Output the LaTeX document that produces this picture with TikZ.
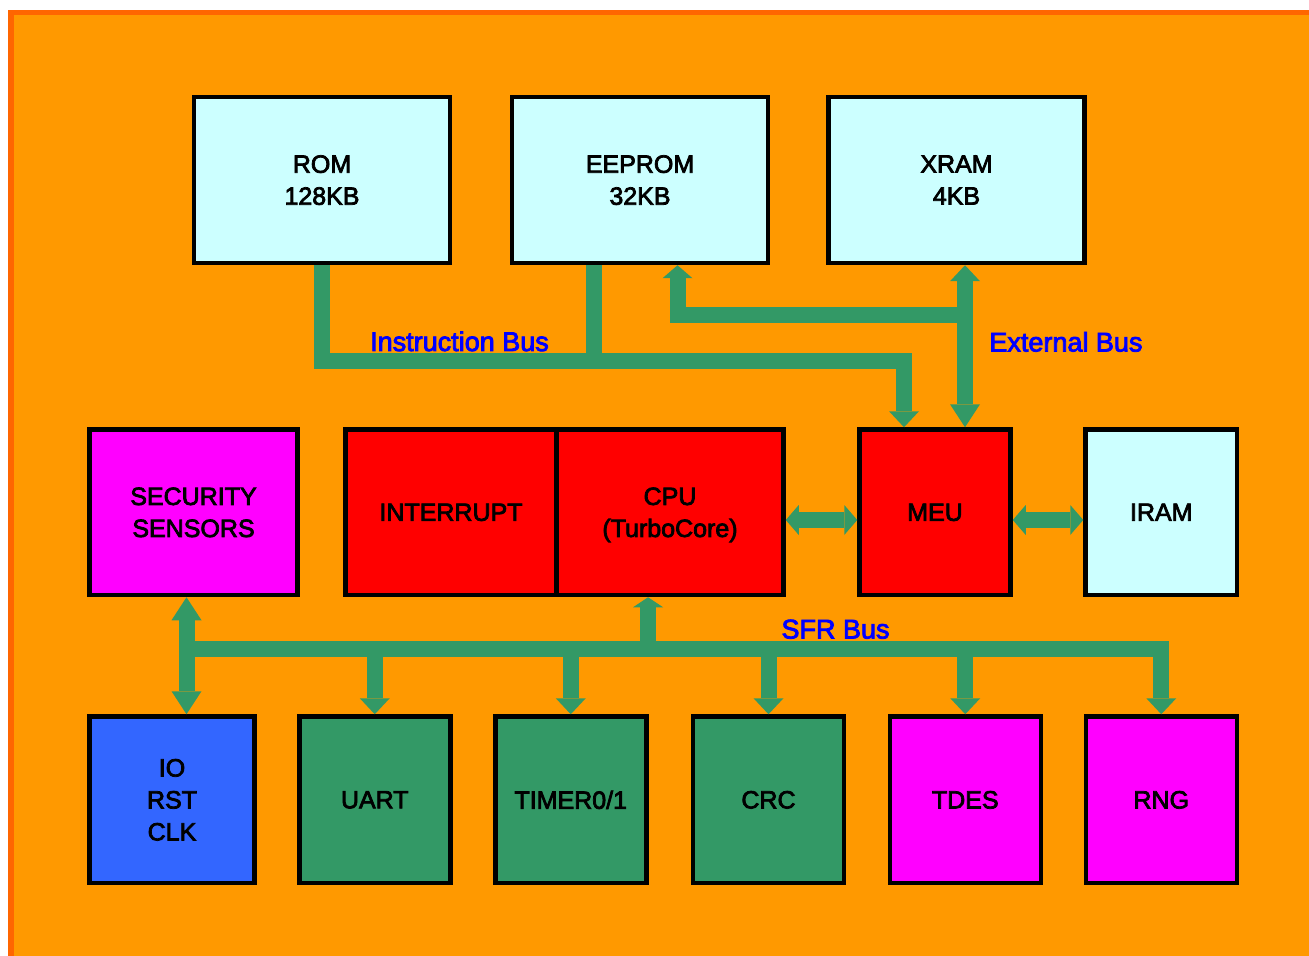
\documentclass[tikz,border=0pt]{standalone}
\usepackage{fontspec}
\setmainfont{Liberation Sans}
\newfontfamily\chipfont{Liberation Sans}[RawFeature={embolden=3}]
\usetikzlibrary{arrows.meta}

\definecolor{bgorange}{HTML}{FF9900}
\definecolor{frameorange}{HTML}{FF6600}
\definecolor{memcyan}{HTML}{CCFFFF}
\definecolor{corered}{HTML}{FF0000}
\definecolor{secmagenta}{HTML}{FF00FF}
\definecolor{ioblue}{HTML}{3366FF}
\definecolor{busgreen}{HTML}{339966}
\definecolor{labelblue}{HTML}{0000FF}

\tikzset{
	block/.style={draw=black, line width=2.25pt, align=center, inner sep=0pt, text depth=0pt,
		font=\chipfont\fontsize{12.5}{16}\selectfont},
	topblock/.style={block, fill=memcyan, minimum width=128pt, minimum height=83pt},
	midblock/.style={block, minimum height=82.75pt},
	lowblock/.style={block, minimum width=75.5pt, minimum height=83.25pt},
	bus/.style={draw=busgreen, line width=8pt, line join=miter},
	buslabel/.style={text=labelblue, inner sep=0pt, font=\chipfont\fontsize{13.5}{16}\selectfont},
	tinyhead/.tip={Triangle[width=15pt, length=5pt, line width=0pt]},
	shorthead/.tip={Triangle[width=15pt, length=6.5pt, line width=0pt]},
	midhead/.tip={Triangle[width=15pt, length=8pt, line width=0pt]},
	longhead/.tip={Triangle[width=15pt, length=11.5pt, line width=0pt]}
}

\begin{document}
\begin{tikzpicture}[x=0.5pt, y=-0.5pt]
%%%%%%%%%%%%%%%%%%

\useasboundingbox (0,0) rectangle (1309,956);

%Background
	\fill[bgorange] (8,10) rectangle (1320,970);
	\draw[frameorange, line width=2.75pt] (10.75,970) -- (10.75,12.75) -- (1320,12.75);

%Memories
	\node[topblock] (ROM) at (322,180) {ROM\\128KB};
	\node[topblock] (EEPROM) at (640,180) {EEPROM\\32KB};
	\node[topblock] (XRAM) at (956.5,180) {XRAM\\4KB};

%Core row
	\node[midblock, fill=secmagenta, minimum width=104pt] (SEC) at (193.5,512.25) {SECURITY\\SENSORS};
	\node[midblock, fill=corered, minimum width=105.5pt] (INT) at (451,512.25) {INTERRUPT};
	\node[midblock, fill=corered, minimum width=113.5pt] (CPU) at (670,512.25) {CPU\\(TurboCore)};
	\node[midblock, fill=corered, minimum width=75.5pt] (MEU) at (935,512.25) {MEU};
	\node[midblock, fill=memcyan, minimum width=75.75pt] (IRAM) at (1161.25,512.25) {IRAM};

%Peripherals
	\node[lowblock, fill=ioblue, minimum width=82.5pt] (IO) at (172,799.75) {IO\\RST\\CLK};
	\node[lowblock, fill=busgreen] (UART) at (374.75,799.75) {UART};
	\node[lowblock, fill=busgreen] (TIMER) at (570.75,799.75) {TIMER0/1};
	\node[lowblock, fill=busgreen] (CRC) at (768.5,799.75) {CRC};
	\node[lowblock, fill=secmagenta] (TDES) at (965.25,799.75) {TDES};
	\node[lowblock, fill=secmagenta] (RNG) at (1161.25,799.75) {RNG};

% Bus corners
	\coordinate (ib) at (904,361);
	\coordinate (ibE) at (594,369);
	\coordinate (eb) at (965,315.5);
	\coordinate (ebE) at (677.5,315.5);
	\coordinate (row) at (0,520);
	\coordinate (sfL) at (186.5,649);
	\coordinate (sfR) at (1161.25,649);
	\coordinate (cpuT) at (648,649);

%Instruction bus
	\draw[bus, -{midhead}] (ROM.south) |- (ib) -- (ib |- MEU.north);
	\draw[bus] (EEPROM.south -| ibE) -- (ibE);
	\node[buslabel, anchor=base] (ibLabel) at (459.5,351) {Instruction Bus};

%External bus
	\draw[bus, {midhead}-{longhead}] (XRAM.south -| eb) -- (MEU.north -| eb);
	\draw[bus, -{shorthead}] (eb) -- (ebE) -- (EEPROM.south -| ebE);
	\node[buslabel, anchor=base west] (ebLabel) at (989,351.5) {External Bus};

%Core links
	\draw[bus, {shorthead}-{shorthead}] (CPU.east |- row) -- (MEU.west |- row);
	\draw[bus, {shorthead}-{shorthead}] (MEU.east |- row) -- (IRAM.west |- row);

%SFR bus
	\draw[bus, {longhead}-{longhead}] (SEC.south -| sfL) -- (IO.north -| sfL);
	\draw[bus, -{midhead}] (sfL) -- (sfR) -- (RNG.north);
	\foreach \n in {UART,TIMER,CRC,TDES}
	{
		\draw[bus, -{midhead}] (\n.north |- sfL) -- (\n.north);
	}
	\draw[bus, -{tinyhead}] (cpuT) -- (cpuT |- CPU.south);
	\node[buslabel, anchor=base] (sfLabel) at (835.5,638.5) {SFR Bus};

\end{tikzpicture}
\end{document}
